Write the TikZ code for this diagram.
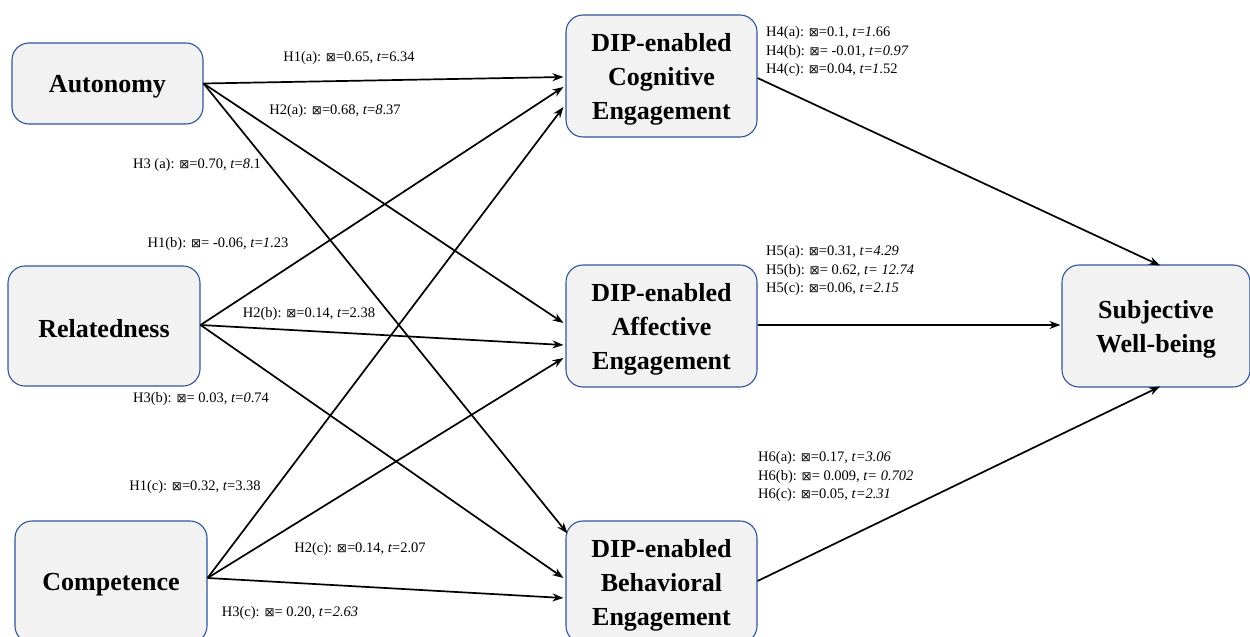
\documentclass[tikz,border=0pt]{standalone}
\usepackage{fontspec}
\setmainfont{Liberation Serif}
\newfontfamily\symfam{DejaVu Sans}
\usetikzlibrary{calc,arrows.meta}
\newcommand{\bx}{{\symfam\fontsize{12}{12}\selectfont ⊠}}
\definecolor{boxfill}{HTML}{F2F2F2}
\definecolor{boxline}{HTML}{2F5597}
\tikzset{
  construct/.style={draw=boxline, fill=boxfill, line width=1.1pt, rounded corners=17pt, inner sep=0pt},
  cname/.style={align=center, font=\fontsize{26}{34}\selectfont\bfseries, inner sep=0pt},
  path/.style={draw=black, line width=1.7pt, -{Stealth[length=11pt,width=8pt]}},
  coef/.style={font=\fontsize{14.5}{18.5}\selectfont, inner sep=0pt},
  coefblock/.style={coef, anchor=west, align=left},
}
\begin{document}
\begin{tikzpicture}[x=1pt, y=-1pt]
\clip (0,0) rectangle (1250,637);
\useasboundingbox (0,0) rectangle (1250,637);

% exogenous constructs
\node[construct, minimum width=191pt, minimum height=81pt] (aut) at (107.5,83.5) {};
\node[construct, minimum width=192pt, minimum height=120pt] (rel) at (104,326) {};
\node[construct, minimum width=192pt, minimum height=122pt] (com) at (111,582) {};

% mediators
\node[construct, minimum width=191pt, minimum height=122pt] (cog) at (661.5,76) {};
\node[construct, minimum width=191pt, minimum height=122pt] (aff) at (661.5,326) {};
\node[construct, minimum width=191pt, minimum height=122pt] (beh) at (661.5,582) {};

% outcome
\node[construct, minimum width=188pt, minimum height=122pt] (swb) at (1156,326) {};

% construct names
\node[cname] (autT) at ($(aut)+(0,3)$) {Autonomy};
\node[cname] (relT) at ($(rel)+(0,3)$) {Relatedness};
\node[cname] (comT) at ($(com)+(0,3)$) {Competence};
\node[cname] (cogT) at ($(cog)+(0,3)$) {DIP-enabled\\Cognitive\\Engagement};
\node[cname] (affT) at ($(aff)+(0,3)$) {DIP-enabled\\Affective\\Engagement};
\node[cname] (behT) at ($(beh)+(0,3)$) {DIP-enabled\\Behavioral\\Engagement};
\node[cname] (swbT) at ($(swb)+(0,3)$) {Subjective\\Well-being};

% start points on the exogenous constructs
\coordinate (autO) at (aut.east);
\coordinate (relO) at ($(rel.east)+(0,-1)$);
\coordinate (comO) at ($(com.east)+(0,-4)$);

% paths to the mediators
\draw[path] (autO) -- ($(cog.west)+(-2,1)$);
\draw[path] (relO) -- ($(cog.west)+(-2,11)$);
\draw[path] (comO) -- ($(cog.west)+(-2,31)$);
\draw[path] (autO) -- ($(aff.west)+(-2,-3)$);
\draw[path] (relO) -- ($(aff.west)+(-2,19)$);
\draw[path] (comO) -- ($(aff.west)+(-2,32)$);
\draw[path] (autO) -- ($(beh.north west)+(2,13)$);
\draw[path] (relO) -- ($(beh.west)+(-2,-4)$);
\draw[path] (comO) -- ($(beh.west)+(-2,16)$);

% paths to the outcome
\draw[path] ($(cog.east)+(0,2)$) -- ($(swb.north)+(4,1)$);
\draw[path] ($(aff.east)+(0,-1)$) -- ($(swb.west)+(-1,-1)$);
\draw[path] ($(beh.east)+(0,-1)$) -- ($(swb.south)+(4,-1)$);

% coefficients
\node[coef] (l1a) at (349,58) {H1(a): \bx=0.65, \textit{t}=6.34};
\node[coef] (l2a) at (335,111) {H2(a): \bx=0.68, \textit{t}=\textit{8}.37};
\node[coef] (l3a) at (197,165) {H3 (a): \bx=0.70, \textit{t}=\textit{8}.1};
\node[coef] (l1b) at (218,244) {H1(b): \bx= -0.06, \textit{t}=\textit{1}.23};
\node[coef] (l2b) at (309,314) {H2(b): \bx=0.14, \textit{t}=2.38};
\node[coef] (l3b) at (201,399) {H3(b): \bx= 0.03, \textit{t}=\textit{0}.74};
\node[coef] (l1c) at (195,487) {H1(c): \bx=0.32, \textit{t}=3.38};
\node[coef] (l2c) at (360,549) {H2(c): \bx=0.14, \textit{t}=2.07};
\node[coef] (l3c) at (290,613) {H3(c): \bx= 0.20, \textit{t=2.63}};

\node[coefblock] (l4) at (766,52) {H4(a): \bx=0.1, \textit{t}=\textit{1}.66\\
  H4(b): \bx= -0.01, \textit{t=0.97}\\
  H4(c): \bx=0.04, \textit{t}=\textit{1}.52};
\node[coefblock] (l5) at (766,271) {H5(a): \bx=0.31, \textit{t=4.29}\\
  H5(b): \bx= 0.62, \textit{t= 12.74}\\
  H5(c): \bx=0.06, \textit{t=2.15}};
\node[coefblock] (l6) at (758,477) {H6(a): \bx=0.17, \textit{t=3.06}\\
  H6(b): \bx= 0.009, \textit{t= 0.702}\\
  H6(c): \bx=0.05, \textit{t=2.31}};
\end{tikzpicture}
\end{document}
